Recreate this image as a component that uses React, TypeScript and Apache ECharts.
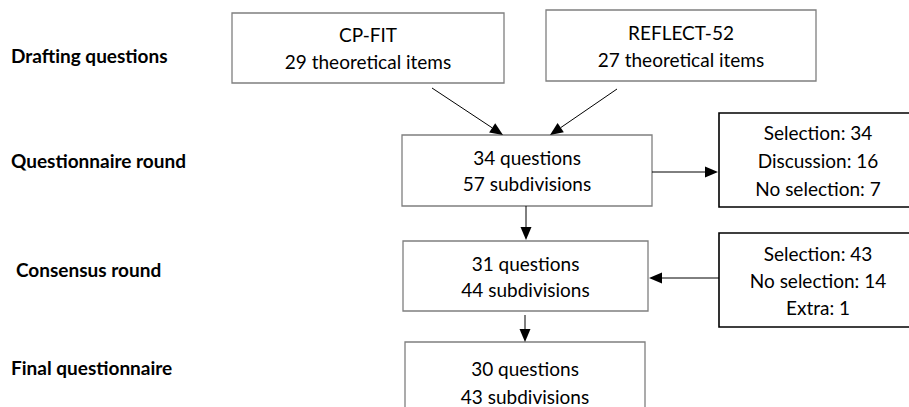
import React, { useEffect, useRef } from "react";
import * as echarts from "echarts";

const stageLabels = ["Drafting questions", "Questionnaire round", "Consensus round", "Final questionnaire"];
const sourceBoxes = [
  ["CP-FIT", "29 theoretical items"],
  ["REFLECT-52", "27 theoretical items"],
];
const mainBoxes = [
  ["34 questions", "57 subdivisions"],
  ["31 questions", "44 subdivisions"],
  ["30 questions", "43 subdivisions"],
];
const sideBoxes = [
  ["Selection: 34", "Discussion: 16", "No selection: 7"],
  ["Selection: 43", "No selection: 14", "Extra: 1"],
];

const FONT = "Lato, 'Open Sans', sans-serif";
const GRAY = "#7f7f7f";

function arrow(x1: number, y1: number, x2: number, y2: number, len = 13, half = 5.5) {
  const dx = x2 - x1, dy = y2 - y1;
  const L = Math.sqrt(dx * dx + dy * dy);
  const ux = dx / L, uy = dy / L;
  const bx = x2 - ux * len, by = y2 - uy * len;
  const px = -uy, py = ux;
  return [
    { type: "line", shape: { x1, y1, x2: bx, y2: by }, style: { stroke: "#000", lineWidth: 1 } },
    {
      type: "polygon",
      shape: { points: [[x2, y2], [bx + px * half, by + py * half], [bx - px * half, by - py * half]] },
      style: { fill: "#000" },
    },
  ];
}

function box(x: number, y: number, w: number, h: number, lines: string[], stroke: string, lw: number, lineGap: number, cx?: number) {
  const els: any[] = [
    { type: "rect", shape: { x, y, width: w, height: h }, style: { fill: "#fff", stroke, lineWidth: lw } },
  ];
  const centerX = cx ?? x + w / 2;
  const centerY = y + h / 2;
  const n = lines.length;
  lines.forEach((t, i) => {
    els.push({
      type: "text",
      x: centerX,
      y: centerY + (i - (n - 1) / 2) * lineGap,
      style: { text: t, font: `19px ${FONT}`, fill: "#000", align: "center", verticalAlign: "middle" },
    });
  });
  return els;
}

export default function App() {
  const ref = useRef<HTMLDivElement>(null);
  useEffect(() => {
    if (!ref.current) return;
    const chart = echarts.init(ref.current, undefined, { renderer: "svg" });
    const labelPos = [
      [11, 55],
      [11, 160],
      [16, 269],
      [11, 367],
    ];
    const elements: any[] = [];
    stageLabels.forEach((t, i) => {
      elements.push({
        type: "text",
        x: labelPos[i][0],
        y: labelPos[i][1],
        style: { text: t, font: `bold 19px ${FONT}`, fill: "#000", align: "left", verticalAlign: "middle" },
      });
    });
    // source boxes
    elements.push(...box(232, 13, 272, 70, sourceBoxes[0], GRAY, 1.3, 27));
    elements.push(...box(546, 10, 270, 71, sourceBoxes[1], GRAY, 1.3, 27));
    // main boxes
    elements.push(...box(402, 135, 250, 71, mainBoxes[0], GRAY, 1.3, 26));
    elements.push(...box(403, 241, 245, 70, mainBoxes[1], GRAY, 1.3, 26));
    elements.push(...box(405, 342, 240, 80, mainBoxes[2], GRAY, 1.3, 28, 525));
    // side boxes
    elements.push(...box(719, 113, 210, 94, sideBoxes[0], "#000", 1.6, 28, 818));
    elements.push(...box(719, 233, 210, 94, sideBoxes[1], "#000", 1.6, 27, 818));
    // arrows
    elements.push(...arrow(432, 88, 503, 135));
    elements.push(...arrow(617, 89, 550, 135));
    elements.push(...arrow(526, 206, 526, 240));
    elements.push(...arrow(525, 315, 525, 342));
    elements.push(...arrow(652, 172, 718, 172));
    elements.push(...arrow(719, 278, 649, 278));

    chart.setOption({
      animation: false,
      backgroundColor: "#fff",
      graphic: { elements },
    });
    return () => chart.dispose();
  }, []);
  return <div ref={ref} style={{ position: "absolute", left: 0, top: 0, width: 909, height: 407 }} />;
}
